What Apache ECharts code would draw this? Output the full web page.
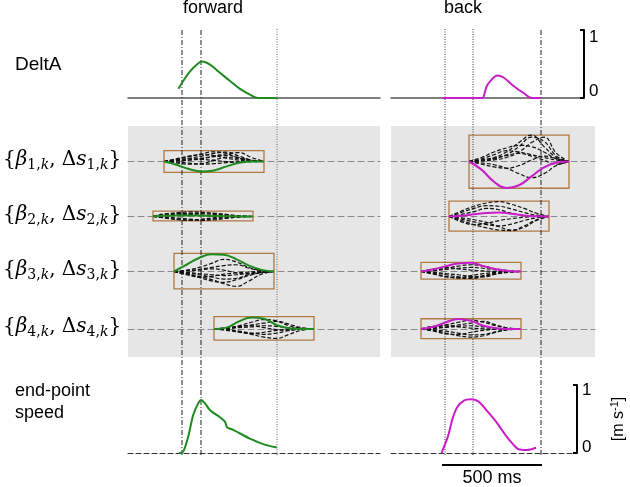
<!DOCTYPE html>
<html><head><meta charset="utf-8">
<script src="https://cdn.jsdelivr.net/npm/echarts@6/dist/echarts.min.js"></script>
<style>html,body{margin:0;padding:0;background:#fff}#c{width:630px;height:487px}</style>
</head><body><div id="c"></div>
<script>
// ================= DATA =================
const windowLength = 500;               // ms, width of each basis window
const scaleBarStart = -15, scaleBarLength = 500;
const fwdEvents = [0, 95, 475];          // ms
const backEvents = [0, 140, 480];        // ms

// DeltA signal [t ms, value]
const fwdDelta = [[-18,0.135],[6,0.25],[40,0.39],[73,0.49],[100,0.535],[140,0.49],[190,0.37],[240,0.25],[290,0.135],[340,0.05],[380,0.0],[475,0.0]];
const backDelta = [[-15,0],[188,0],[196,0.05],[208,0.17],[233,0.27],[261,0.33],[291,0.305],[341,0.18],[391,0.077],[433,0.0],[480,0]];

// end-point speed [t ms, m/s]
const fwdSpeed = [[-14,0],[6,0.02],[31,0.24],[56,0.56],[81,0.73],[95,0.78],[115,0.73],[140,0.63],[190,0.525],[212,0.47],[218,0.44],[226,0.375],[256,0.34],[340,0.21],[406,0.13],[474,0.08]];
const backSpeed = [[-8,0],[25,0.24],[50,0.51],[75,0.68],[108,0.77],[141,0.79],[183,0.76],[225,0.63],[275,0.46],[325,0.26],[366,0.12],[391,0.055],[433,0.044],[483,0.078]];

// basis windows
const fwdBoxStart = [-90, -145, -40, 160];
const fwdBoxTop = [0.40, 0.20, 0.67, 0.46];
const fwdBoxBottom = [-0.40, -0.16, -0.64, -0.41];
const backBoxStart = [120, 20, -120, -120];
const backBoxTop = [0.98, 0.57, 0.34, 0.38];
const backBoxBottom = [-0.99, -0.54, -0.28, -0.36];

// coefficient curves: 9 samples across each window
const fwdB1Colored = [0,-0.12,-0.28,-0.37,-0.33,-0.18,-0.05,0,0];
const fwdB1Dashed = [
 [0,0.05,0.12,0.2,0.3,0.35,0.2,0.05,0],
 [0,0.08,0.18,0.28,0.36,0.3,0.12,0.03,0],
 [0,0.1,0.2,0.25,0.22,0.12,0.05,0.01,0],
 [0,0.03,0.06,0.12,0.2,0.28,0.33,0.15,0],
 [0,0.02,0.05,0.1,0.18,0.22,0.15,0.05,0],
 [0,-0.05,-0.1,-0.08,0.05,0.15,0.1,0.03,0],
 [0,-0.02,-0.06,-0.1,-0.08,-0.04,-0.01,0,0],
 [0,0.06,0.1,0.08,0.04,0,-0.03,-0.01,0]];
const fwdB2Colored = [0,0.03,0.04,0.04,0.03,0.02,0.01,0,0];
const fwdB2Dashed = [
 [0,0.08,0.14,0.17,0.15,0.1,0.05,0.02,0],
 [0,0.05,0.1,0.12,0.1,0.07,0.03,0.01,0],
 [0,-0.05,-0.1,-0.13,-0.12,-0.08,-0.04,-0.01,0],
 [0,-0.03,-0.06,-0.1,-0.14,-0.12,-0.06,-0.02,0],
 [0,0.02,0.06,0.1,0.13,0.12,0.07,0.02,0],
 [0,-0.06,-0.12,-0.14,-0.09,-0.04,-0.02,0,0],
 [0,0.1,0.12,0.08,0.04,0.01,0,0,0]];
const fwdB3Colored = [0,0.25,0.5,0.64,0.62,0.45,0.22,0.06,0];
const fwdB3Dashed = [
 [0,-0.08,-0.18,-0.3,-0.45,-0.55,-0.35,-0.1,0],
 [0,-0.1,-0.22,-0.35,-0.4,-0.3,-0.15,-0.04,0],
 [0,-0.05,-0.12,-0.2,-0.28,-0.25,-0.12,-0.03,0],
 [0,0.05,0.15,0.3,0.45,0.35,0.15,0.04,0],
 [0,0.03,0.08,0.15,0.22,0.25,0.12,0.03,0],
 [0,-0.12,-0.2,-0.18,-0.1,-0.05,-0.02,0,0],
 [0,0.02,0.05,0.1,0.05,-0.05,-0.1,-0.04,0],
 [0,-0.03,-0.08,-0.12,-0.15,-0.12,-0.06,-0.02,0]];
const fwdB4Colored = [0,0.05,0.28,0.43,0.38,0.15,0.03,0,0];
const fwdB4Dashed = [
 [0,0.03,0.12,0.25,0.35,0.3,0.12,0.03,0],
 [0,0.02,0.08,0.15,0.22,0.28,0.18,0.05,0],
 [0,-0.03,-0.1,-0.2,-0.3,-0.35,-0.2,-0.05,0],
 [0,-0.02,-0.08,-0.15,-0.2,-0.15,-0.06,-0.01,0],
 [0,0.02,0.05,0.08,0.12,0.1,0.05,0.01,0],
 [0,-0.05,-0.12,-0.16,-0.12,-0.05,-0.01,0,0],
 [0,0.05,0.1,0.12,0.05,-0.02,-0.04,-0.01,0]];
const backB1Colored = [0,-0.3,-0.75,-0.98,-0.88,-0.55,-0.22,-0.04,0];
const backB1Dashed = [
 [0,0.05,0.15,0.35,0.7,0.98,0.55,0.15,0],
 [0,0.03,0.1,0.25,0.55,0.9,0.75,0.2,0],
 [0,0.15,0.35,0.5,0.6,0.55,0.35,0.1,0],
 [0,0.1,0.25,0.4,0.35,0.25,0.15,0.05,0],
 [0,0.02,0.06,0.15,0.35,0.7,0.9,0.3,0],
 [0,-0.05,-0.12,-0.25,-0.45,-0.6,-0.45,-0.15,0],
 [0,0.05,0.12,0.22,0.3,0.2,0.05,-0.1,0],
 [0,-0.1,-0.2,-0.25,-0.15,0.05,0.2,0.1,0]];
const backB2Colored = [0,0.03,0.08,0.13,0.15,0.1,0.04,0.01,0];
const backB2Dashed = [
 [0,0.2,0.38,0.5,0.55,0.45,0.3,0.12,0],
 [0,0.15,0.3,0.4,0.38,0.28,0.15,0.05,0],
 [0,-0.15,-0.3,-0.42,-0.5,-0.52,-0.35,-0.12,0],
 [0,-0.1,-0.2,-0.3,-0.35,-0.28,-0.15,-0.05,0],
 [0,-0.05,-0.12,-0.22,-0.38,-0.5,-0.4,-0.15,0],
 [0,0.08,0.18,0.3,0.25,0.12,0.04,0.01,0],
 [0,-0.2,-0.3,-0.25,-0.15,-0.08,-0.03,0,0]];
const backB3Colored = [0,0.08,0.2,0.3,0.32,0.2,0.08,0.02,0];
const backB3Dashed = [
 [0,-0.08,-0.18,-0.25,-0.26,-0.18,-0.08,-0.02,0],
 [0,-0.05,-0.12,-0.2,-0.22,-0.15,-0.06,-0.01,0],
 [0,0.05,0.12,0.2,0.25,0.2,0.1,0.03,0],
 [0,-0.1,-0.2,-0.22,-0.15,-0.08,-0.03,-0.01,0],
 [0,0.03,0.08,0.12,0.15,0.12,0.06,0.02,0],
 [0,-0.03,-0.08,-0.12,-0.18,-0.2,-0.1,-0.03,0],
 [0,0.1,0.15,0.1,0.05,0.02,0,0,0]];
const backB4Colored = [0,0.08,0.25,0.37,0.3,0.12,0.03,0,0];
const backB4Dashed = [
 [0,0.05,0.15,0.25,0.32,0.25,0.12,0.03,0],
 [0,-0.05,-0.15,-0.25,-0.3,-0.25,-0.12,-0.03,0],
 [0,0.03,0.08,0.15,0.22,0.28,0.15,0.04,0],
 [0,-0.03,-0.08,-0.15,-0.22,-0.2,-0.1,-0.02,0],
 [0,-0.08,-0.18,-0.2,-0.12,-0.05,-0.01,0,0],
 [0,0.1,0.12,0.08,0.03,0.01,0,0,0],
 [0,0.02,0.06,0.1,0.12,0.08,0.03,-0.01,0]];

const rowLabels = ['1','2','3','4'];

// ================= CHART =================
const GREEN = '#1f8a1f', MAGENTA = '#c81ec8', BOX = '#b07a45';
const SANS = 'Liberation Sans, Arial, sans-serif';
const SERIF = 'DejaVu Serif, serif';

const grids = [], xAxes = [], yAxes = [], series = [];
function addGrid(g, xr, yr, xExtra, yExtra) {
  const i = grids.length;
  grids.push(Object.assign({show:false, borderWidth:0}, g));
  xAxes.push(Object.assign({gridIndex:i, type:'value', min:xr[0], max:xr[1],
    axisLine:{show:false}, axisTick:{show:false}, axisLabel:{show:false}, splitLine:{show:false}}, xExtra||{}));
  yAxes.push(Object.assign({gridIndex:i, type:'value', min:yr[0], max:yr[1],
    axisLine:{show:false}, axisTick:{show:false}, axisLabel:{show:false}, splitLine:{show:false}}, yExtra||{}));
  return i;
}
function line(i, data, style, extra) {
  series.push(Object.assign({type:'line', xAxisIndex:i, yAxisIndex:i, data:data, symbol:'none',
    silent:true, animation:false, lineStyle:style}, extra||{}));
}

const L = {left:128, width:252, xr:[-270, 990]};
const Rnarrow = {left:391, width:193, xr:[-270, 695]};
const Rwide = {left:391, width:204, xr:[-270, 750]};

const bracketY = (topPad, botPad, extra) => Object.assign({
  position:'right', interval:1,
  axisLine:{show:true, onZero:false, lineStyle:{color:'#000', width:2}},
  axisTick:{show:true, inside:true, length:4, lineStyle:{color:'#000', width:2}},
  axisLabel:{show:true, margin:5, color:'#000', fontSize:17, fontFamily:SANS,
    formatter: v => v === 1 ? '{t|1}' : '{b|0}',
    rich:{t:{padding:[topPad,0,0,0], fontSize:17, fontFamily:SANS, color:'#000'},
          b:{padding:[0,0,botPad,0], fontSize:17, fontFamily:SANS, color:'#000'}}}
}, extra||{});

// top row (DeltA)
const topAxisLine = {axisLine:{show:true, onZero:true, lineStyle:{color:'#555', width:1.5}}};
const gTL = addGrid({left:L.left, width:L.width, top:30, height:68}, L.xr, [0,1], topAxisLine);
const gTR = addGrid({left:Rnarrow.left, width:Rnarrow.width, top:30, height:68}, Rnarrow.xr, [0,1], topAxisLine, bracketY(14,14));
line(gTL, fwdDelta, {color:GREEN, width:2}, {smooth:0.35});
line(gTR, backDelta, {color:MAGENTA, width:2}, {smooth:0.35});

// gray panels
addGrid({left:L.left, width:L.width, top:126, height:231, show:true, backgroundColor:'#e6e6e6'}, L.xr, [0,1]);
addGrid({left:Rwide.left, width:Rwide.width, top:126, height:231, show:true, backgroundColor:'#e6e6e6'}, Rwide.xr, [0,1]);

// coefficient rows
const rowCenters = [161.5, 216.5, 271.5, 329];
const rowAxisLine = {axisLine:{show:true, onZero:true, lineStyle:{color:'#888', width:1, type:[6,4]}}};
const fwdColored = [fwdB1Colored, fwdB2Colored, fwdB3Colored, fwdB4Colored];
const fwdDashed = [fwdB1Dashed, fwdB2Dashed, fwdB3Dashed, fwdB4Dashed];
const backColored = [backB1Colored, backB2Colored, backB3Colored, backB4Colored];
const backDashed = [backB1Dashed, backB2Dashed, backB3Dashed, backB4Dashed];
function toXY(start, vals) {
  return vals.map((v, k) => [start + k * windowLength / (vals.length - 1), v]);
}
function addRow(col, r, colored, dashed, starts, tops, bottoms, color) {
  const g = addGrid({left:col.left, width:col.width, top:rowCenters[r]-27, height:54}, col.xr, [-1,1], rowAxisLine);
  dashed.forEach(d => line(g, toXY(starts[r], d), {color:'#111', width:1.2, type:[4,2]}, {smooth:0.45}));
  line(g, toXY(starts[r], colored), {color:color, width:2}, {smooth:0.45,
    markArea:{silent:true, itemStyle:{color:'rgba(0,0,0,0)', borderColor:BOX, borderWidth:1.3},
      data:[[{coord:[starts[r], tops[r]]}, {coord:[starts[r] + windowLength, bottoms[r]]}]]}});
}
for (let r = 0; r < 4; r++) addRow(L, r, fwdColored[r], fwdDashed[r], fwdBoxStart, fwdBoxTop, fwdBoxBottom, GREEN);
for (let r = 0; r < 4; r++) addRow(Rwide, r, backColored[r], backDashed[r], backBoxStart, backBoxTop, backBoxBottom, MAGENTA);

// bottom row (speed)
const botAxisLine = {axisLine:{show:true, onZero:true, lineStyle:{color:'#333', width:1.2, type:[5,3]}}};
const gBL = addGrid({left:L.left, width:L.width, top:385, height:68}, L.xr, [0,1], botAxisLine);
const gBR = addGrid({left:Rnarrow.left, width:Rnarrow.width, top:385, height:68}, Rnarrow.xr, [0,1], botAxisLine,
  bracketY(10,12, {name:'[m s{sup|-1}]', nameLocation:'middle', nameRotate:90, nameGap:32,
    nameTextStyle:{fontSize:16, fontFamily:SANS, color:'#000', lineHeight:20,
      rich:{sup:{fontSize:11, fontFamily:SANS, color:'#000', lineHeight:11, verticalAlign:'top'}}}}));
line(gBL, fwdSpeed, {color:GREEN, width:2}, {smooth:0.3});
line(gBR, backSpeed, {color:MAGENTA, width:2}, {smooth:0.3});

// event lines overlay
const fwdEventStyle = [{color:'#222', width:1, type:[5,2,1,2]}, {color:'#222', width:1, type:[5,2,1,2]}, {color:'#666', width:1, type:[1,1.5]}];
const backEventStyle = [{color:'#333', width:1, type:[1,1.5]}, {color:'#333', width:1, type:[1,1.5]}, {color:'#222', width:1, type:[5,2,1,2]}];
const gOL = addGrid({left:L.left, width:L.width, top:28, height:427}, L.xr, [0,1]);
const gOR = addGrid({left:Rwide.left, width:Rwide.width, top:28, height:427}, Rwide.xr, [0,1]);
fwdEvents.forEach((t, k) => line(gOL, [[t,0],[t,1]], fwdEventStyle[k], {z:1}));
backEvents.forEach((t, k) => line(gOR, [[t,0],[t,1]], backEventStyle[k], {z:1}));

// scale bar
const gSB = addGrid({left:Rnarrow.left, width:Rnarrow.width, top:460, height:10}, Rnarrow.xr, [-1,1]);
line(gSB, [[scaleBarStart,0],[scaleBarStart+scaleBarLength,0]], {color:'#000', width:2});

// texts
const txt = (x, y, text, extra) => ({type:'text', x:x, y:y, silent:true,
  style:Object.assign({text:text, fill:'#000', fontSize:18, fontFamily:SANS, textAlign:'left', align:'left',
    textVerticalAlign:'middle', verticalAlign:'middle'}, extra||{})});
const mathRich = {
  it:{fontFamily:SERIF, fontStyle:'italic', fontSize:20, lineHeight:25},
  rm:{fontFamily:SERIF, fontSize:20, lineHeight:25},
  sub:{fontFamily:SERIF, fontSize:14, lineHeight:14, verticalAlign:'bottom'},
  subi:{fontFamily:SERIF, fontStyle:'italic', fontSize:14, lineHeight:14, verticalAlign:'bottom'}
};
const graphics = [
  txt(213, 8, 'forward', {textAlign:'center', align:'center'}),
  txt(463, 8, 'back', {textAlign:'center', align:'center'}),
  txt(15, 65, 'DeltA', {fontSize:19}),
  txt(15, 391, 'end-point'),
  txt(15, 413, 'speed'),
  txt(492, 478, '500 ms', {textAlign:'center', align:'center'})
];
rowLabels.forEach((n, r) => {
  const s = '{' + '{it|β}{sub|' + n + ',}{subi|k}{rm|, Δ}{it|s}{sub|' + n + ',}{subi|k}' + '}';
  graphics.push(txt(3, rowCenters[r] - 2, s, {fontFamily:SERIF, fontSize:20, lineHeight:25, rich:mathRich}));
});

const chart = echarts.init(document.getElementById('c'), null, {renderer:'canvas'});
chart.setOption({
  animation:false,
  backgroundColor:'#fff',
  grid:grids, xAxis:xAxes, yAxis:yAxes, series:series,
  graphic:{elements:graphics}
});
</script></body></html>
